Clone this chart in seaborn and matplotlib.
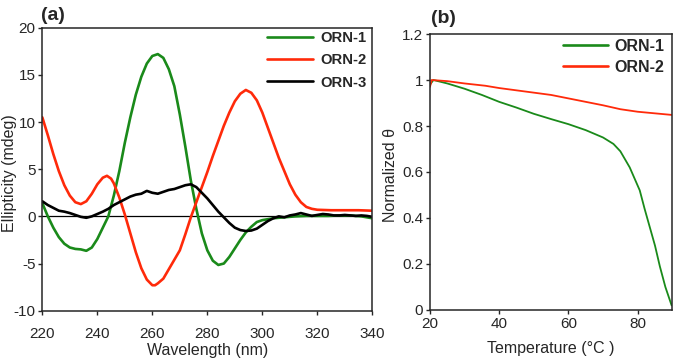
import matplotlib
matplotlib.use("Agg")
import matplotlib.pyplot as plt
import seaborn as sns
import numpy as np
import pandas as pd

# --- CD spectra (panel a) ---
wl_orn1 = [220, 222, 224, 226, 228, 230, 232, 234, 236, 238, 240, 242, 244, 246, 248, 250,
           252, 254, 256, 258, 260, 262, 264, 266, 268, 270, 272, 274, 276, 278, 280, 282,
           284, 286, 288, 290, 292, 294, 296, 298, 300, 304, 308, 312, 316, 320, 324, 328,
           332, 336, 340]
cd_orn1 = [1.4, 0.0, -1.2, -2.2, -2.9, -3.3, -3.45, -3.5, -3.65, -3.3, -2.4, -1.2, 0.0, 2.2,
           4.8, 7.8, 10.5, 12.9, 14.8, 16.2, 17.0, 17.2, 16.8, 15.6, 13.8, 10.8, 7.4, 3.8,
           0.8, -1.8, -3.6, -4.7, -5.15, -5.0, -4.3, -3.4, -2.5, -1.7, -1.1, -0.6, -0.4,
           -0.2, -0.1, 0.0, 0.05, 0.05, 0.05, 0.1, 0.1, 0.0, -0.2]

wl_orn2 = [220, 222, 224, 226, 228, 230, 232, 234, 236, 238, 240, 242, 243.5, 245, 246, 248,
           250, 252, 254, 256, 258, 260, 261, 262, 264, 266, 268, 270, 272, 274, 276, 278,
           280, 282, 284, 286, 288, 290, 292, 294, 296, 298, 300, 302, 304, 306, 308, 310,
           312, 314, 316, 318, 320, 325, 330, 335, 340]
cd_orn2 = [10.5, 8.6, 6.6, 4.8, 3.3, 2.2, 1.5, 1.3, 1.6, 2.4, 3.4, 4.1, 4.3, 4.0, 3.5, 2.0,
           0.2, -1.8, -3.8, -5.5, -6.7, -7.3, -7.3, -7.1, -6.6, -5.6, -4.6, -3.6, -1.9, -0.1,
           1.5, 3.1, 4.7, 6.4, 8.0, 9.6, 11.0, 12.2, 13.0, 13.4, 13.1, 12.3, 11.0, 9.4, 7.8,
           6.2, 4.8, 3.4, 2.3, 1.5, 1.0, 0.8, 0.7, 0.65, 0.65, 0.65, 0.6]

wl_orn3 = [220, 222, 224, 226, 228, 230, 232, 234, 236, 238, 240, 242, 244, 246, 248, 250,
           252, 254, 256, 258, 260, 262, 264, 266, 268, 270, 272, 274, 276, 278, 280, 282,
           284, 286, 288, 290, 292, 294, 296, 298, 300, 302, 304, 306, 308, 310, 312, 314,
           316, 318, 320, 322, 324, 326, 328, 330, 332, 334, 336, 338, 340]
cd_orn3 = [1.6, 1.2, 0.9, 0.6, 0.5, 0.35, 0.15, -0.05, -0.15, 0.0, 0.25, 0.5, 0.8, 1.2, 1.5,
           1.8, 2.1, 2.3, 2.4, 2.7, 2.5, 2.4, 2.6, 2.8, 2.9, 3.1, 3.3, 3.4, 3.1, 2.5, 1.9,
           1.2, 0.5, -0.1, -0.7, -1.2, -1.45, -1.55, -1.5, -1.3, -0.9, -0.5, -0.2, 0.0, -0.1,
           0.1, 0.2, 0.35, 0.2, 0.05, 0.15, 0.25, 0.2, 0.1, 0.1, 0.15, 0.1, 0.05, 0.1, 0.05,
           -0.05]

# --- melting curves (panel b) ---
temp_orn1 = [20, 21, 25, 30, 35, 40, 45, 50, 55, 60, 65, 70, 73, 75, 77.7, 80.6, 82, 83.5,
             85, 86.4, 88, 89.8]
theta_orn1 = [0.98, 1.0, 0.985, 0.962, 0.935, 0.905, 0.88, 0.853, 0.83, 0.808, 0.782, 0.75,
              0.722, 0.69, 0.62, 0.52, 0.44, 0.36, 0.28, 0.19, 0.1, 0.02]

temp_orn2 = [20, 20.5, 25, 30, 36, 40, 45, 50, 55, 60, 65, 70, 75, 80, 85, 90]
theta_orn2 = [0.97, 1.0, 0.995, 0.985, 0.975, 0.965, 0.955, 0.945, 0.935, 0.92, 0.905, 0.89,
              0.873, 0.862, 0.855, 0.848]

labels = ["ORN-1", "ORN-2", "ORN-3"]
colors = {"ORN-1": "#1a8a1a", "ORN-2": "#ff2a0a", "ORN-3": "#000000"}

cd = pd.concat([
    pd.DataFrame({"wl": wl_orn1, "cd": cd_orn1, "sample": "ORN-1"}),
    pd.DataFrame({"wl": wl_orn2, "cd": cd_orn2, "sample": "ORN-2"}),
    pd.DataFrame({"wl": wl_orn3, "cd": cd_orn3, "sample": "ORN-3"}),
], ignore_index=True)
melt = pd.concat([
    pd.DataFrame({"t": temp_orn1, "theta": theta_orn1, "sample": "ORN-1"}),
    pd.DataFrame({"t": temp_orn2, "theta": theta_orn2, "sample": "ORN-2"}),
], ignore_index=True)

sns.set_style("ticks")
plt.rcParams["font.family"] = ["Liberation Sans", "DejaVu Sans"]
plt.rcParams["axes.unicode_minus"] = False
plt.rcParams["axes.linewidth"] = 1.1
plt.rcParams["xtick.major.width"] = 1.0
plt.rcParams["ytick.major.width"] = 1.0
plt.rcParams["xtick.major.size"] = 3
plt.rcParams["ytick.major.size"] = 3

fig = plt.figure(figsize=(6.75, 3.61), dpi=100)
ax1 = fig.add_axes([0.0627, 0.1393, 0.4889, 0.784])
ax2 = fig.add_axes([0.637, 0.1413, 0.359, 0.7645])

# panel (a): CD spectra
sns.lineplot(data=cd, x="wl", y="cd", hue="sample", hue_order=labels, palette=colors,
             linewidth=1.9, sort=False, estimator=None, ax=ax1)
ax1.axhline(0, color="black", lw=0.9, zorder=0)
ax1.set_xlim(220, 340)
ax1.set_ylim(-10, 20)
ax1.set_xticks(np.arange(220, 341, 20))
ax1.set_yticks(np.arange(-10, 21, 5))
ax1.set_xlabel("Wavelength (nm)", fontsize=11.5, labelpad=1)
ax1.set_ylabel("Ellipticity (mdeg)", fontsize=11.5)
# label coords give the right edge of the rotated label
ax1.yaxis.set_label_coords((17 - 42.3) / 330, 0.485)
ax1.tick_params(axis="x", labelsize=11, pad=9)
ax1.tick_params(axis="y", labelsize=11, pad=2)
ax1.legend(loc="upper left", bbox_to_anchor=(267 / 675, 1 - 31 / 361),
           bbox_transform=fig.transFigure, frameon=False,
           prop={"weight": "bold", "size": 10.7}, handlelength=3.1, borderpad=0,
           borderaxespad=0, labelspacing=0.56, handletextpad=0.47)

# panel (b): thermal melting
sns.lineplot(data=melt, x="t", y="theta", hue="sample", hue_order=labels[:2], palette=colors,
             linewidth=1.3, sort=False, estimator=None, ax=ax2)
ax2.set_xlim(20, 90)
ax2.set_ylim(0, 1.2)
ax2.set_xticks([20, 40, 60, 80])
ax2.set_yticks([0, 0.2, 0.4, 0.6, 0.8, 1.0, 1.2])
ax2.set_yticklabels(["0", "0.2", "0.4", "0.6", "0.8", "1", "1.2"])
ax2.set_xlabel("Temperature (°C )", fontsize=11.5, labelpad=7)
ax2.set_ylabel("Normalized θ", fontsize=11.5)
ax2.yaxis.set_label_coords((398 - 430) / 242.4, 0.49)
ax2.tick_params(axis="x", labelsize=11, pad=2)
ax2.tick_params(axis="y", labelsize=11, pad=2)
leg2 = ax2.legend(loc="upper left", bbox_to_anchor=(563 / 675, 1 - 39 / 361),
                  bbox_transform=fig.transFigure, frameon=False,
                  prop={"weight": "bold", "size": 11.5}, handlelength=2.8, borderpad=0,
                  borderaxespad=0, labelspacing=0.38, handletextpad=0.44)
for line in leg2.get_lines():
    line.set_linewidth(1.9)

fig.text(41 / 675, 1 - 7 / 361, "(a)", fontsize=14, fontweight="bold", va="top", ha="left")
fig.text(431 / 675, 1 - 10 / 361, "(b)", fontsize=14, fontweight="bold", va="top", ha="left")

fig.savefig("out.png", dpi=100)
